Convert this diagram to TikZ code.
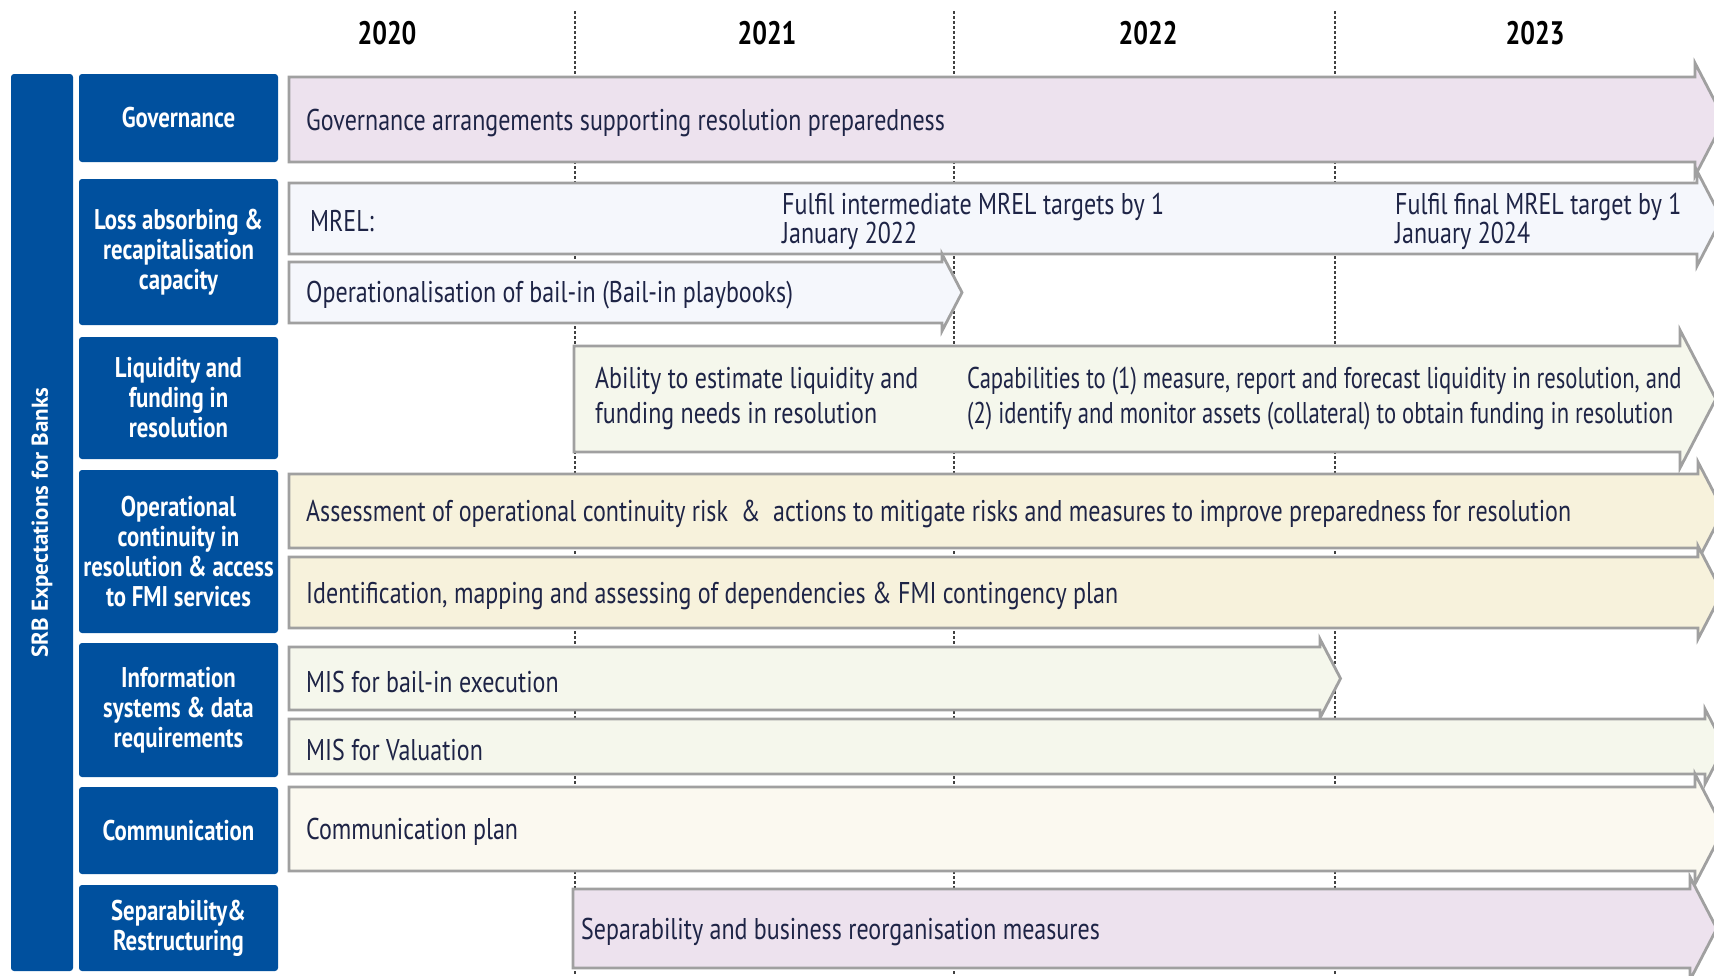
\documentclass[tikz,border=0pt]{standalone}
\usepackage{fontspec}
\setmainfont{PT Sans}[FakeStretch=0.8]
\newfontfamily\spinefont{PT Sans}
\newfontfamily\squeezefont{PT Sans}[FakeStretch=0.755]
\usepackage{tikz}
\usetikzlibrary{positioning,calc}
\definecolor{srbblue}{RGB}{0,80,158}
\definecolor{srbtext}{RGB}{30,36,70}
\definecolor{barline}{RGB}{160,160,160}
\definecolor{fillgov}{RGB}{237,226,238}
\definecolor{fillmrel}{RGB}{245,247,252}
\definecolor{fillliq}{RGB}{245,247,236}
\definecolor{fillops}{RGB}{247,242,220}
\definecolor{fillcom}{RGB}{251,249,240}
\tikzset{
  catbox/.style={rectangle, rounded corners=3pt, fill=srbblue, text=white, align=center, inner sep=0pt, outer sep=0pt, minimum width=199pt, font=\fontsize{28.5}{30}\selectfont\bfseries},
  spine/.style={rectangle, rounded corners=3pt, fill=srbblue, text=white, align=center, inner sep=0pt, outer sep=0pt, font=\spinefont\fontsize{23}{26}\selectfont\bfseries},
  yearlabel/.style={font=\fontsize{32.5}{36}\selectfont\bfseries, text=black},
  bartext/.style={anchor=west, align=left, inner sep=0pt, yshift=-3pt, text=srbtext, font=\fontsize{30}{35}\selectfont},
  tighttext/.style={font=\fontsize{30}{29}\selectfont},
  squeezed/.style={font=\squeezefont\fontsize{30}{35}\selectfont},
  barshape/.style={draw=barline, line width=2.8pt, line join=miter},
  gridline/.style={densely dashed, line width=1.5pt, draw=black!75}
}
% timeline bar: name, fill, left x, head x, top y, bottom y, head overhang
\newcommand{\tlbar}[7]{%
  \draw[barshape, fill=#2] ({#3},{#5}) -- ({#4},{#5}) -- ({#4},{#5-#7})
    -- ({#4+0.52*((#6-#5)/2+#7)},{(#5+#6)/2}) -- ({#4},{#6+#7}) -- ({#4},{#6})
    -- ({#3},{#6}) -- cycle;
  \coordinate (#1) at ({#3},{(#5+#6)/2});}

\begin{document}
\begin{tikzpicture}[x=1pt, y=-1pt]
\useasboundingbox (0,0) rectangle (1714,975);
\clip (0,0) rectangle (1714,975);
% years
\foreach \x in {575,954,1335}
  \draw[gridline] (\x,11) -- (\x,975);
\node[yearlabel] (y2020) at (387,33) {2020};
\node[yearlabel] (y2021) at (767,33) {2021};
\node[yearlabel] (y2022) at (1148,33) {2022};
\node[yearlabel] (y2023) at (1535,33) {2023};
% left column
\node[spine, rotate=90, minimum width=897pt, minimum height=62pt] (srb) at (42,522.5) {SRB Expectations for Banks};
\node[catbox, minimum height=88pt] (catgov) at (178.5,118) {Governance};
\node[catbox, minimum height=146pt, below=17pt of catgov] (catloss) {Loss absorbing \&\\recapitalisation\\capacity};
\node[catbox, minimum height=122pt, below=12pt of catloss] (catliq) {Liquidity and\\funding in\\resolution};
\node[catbox, minimum height=163pt, below=11pt of catliq] (catops) {Operational\\continuity in\\resolution \& access\\to FMI services};
\node[catbox, minimum height=134pt, below=10pt of catops] (catinfo) {Information\\systems \& data\\requirements};
\node[catbox, minimum height=87pt, below=10pt of catinfo] (catcom) {Communication};
\node[catbox, minimum height=86pt, below=11pt of catcom] (catsep) {Separability\&\\Restructuring};
% bars
\tlbar{bargov}{fillgov}{289}{1695}{77}{162}{14}
\tlbar{barmrel}{fillmrel}{289}{1697}{183}{254}{12}
\tlbar{barbail}{fillmrel}{289}{942}{262}{323}{8}
\tlbar{barliq}{fillliq}{574}{1680}{346}{452}{16}
\tlbar{barops}{fillops}{289}{1698}{474}{548}{12}
\tlbar{barfmi}{fillops}{289}{1698}{557}{628}{11}
\tlbar{barmisb}{fillliq}{289}{1320}{647}{710}{8}
\tlbar{barmisv}{fillliq}{289}{1705}{719}{774}{10}
\tlbar{barcom}{fillcom}{289}{1695}{787}{871}{13}
\tlbar{barsep}{fillgov}{573}{1690}{889}{968}{12}
% bar texts
\node[bartext, right=17pt of bargov] (txtgov) {Governance arrangements supporting resolution preparedness};
\node[bartext, right=21pt of barmrel] (txtmrel) {MREL:};
\node[bartext, tighttext] (txtmrelmid) at (782,218) {Fulfil intermediate MREL targets by 1\\January 2022};
\node[bartext, tighttext] (txtmrelend) at (1395,218) {Fulfil final MREL target by 1\\January 2024};
\node[bartext, right=17pt of barbail] (txtbail) {Operationalisation of bail-in (Bail-in playbooks)};
\node[bartext] (txtliqa) at (595,396) {Ability to estimate liquidity and\\funding needs in resolution};
\node[bartext, squeezed] (txtliqb) at (967,396) {Capabilities to (1) measure, report and forecast liquidity in resolution, and\\(2) identify and monitor assets (collateral) to obtain funding in resolution};
\node[bartext, right=17pt of barops] (txtops) {Assessment of operational continuity risk\ \ \&\ \ actions to mitigate risks and measures to improve preparedness for resolution};
\node[bartext, right=17pt of barfmi] (txtfmi) {Identification, mapping and assessing of dependencies \& FMI contingency plan};
\node[bartext, right=17pt of barmisb] (txtmisb) {MIS for bail-in execution};
\node[bartext, right=17pt of barmisv] (txtmisv) {MIS for Valuation};
\node[bartext, right=17pt of barcom] (txtcom) {Communication plan};
\node[bartext, right=8pt of barsep] (txtsep) {Separability and business reorganisation measures};
\end{tikzpicture}
\end{document}
